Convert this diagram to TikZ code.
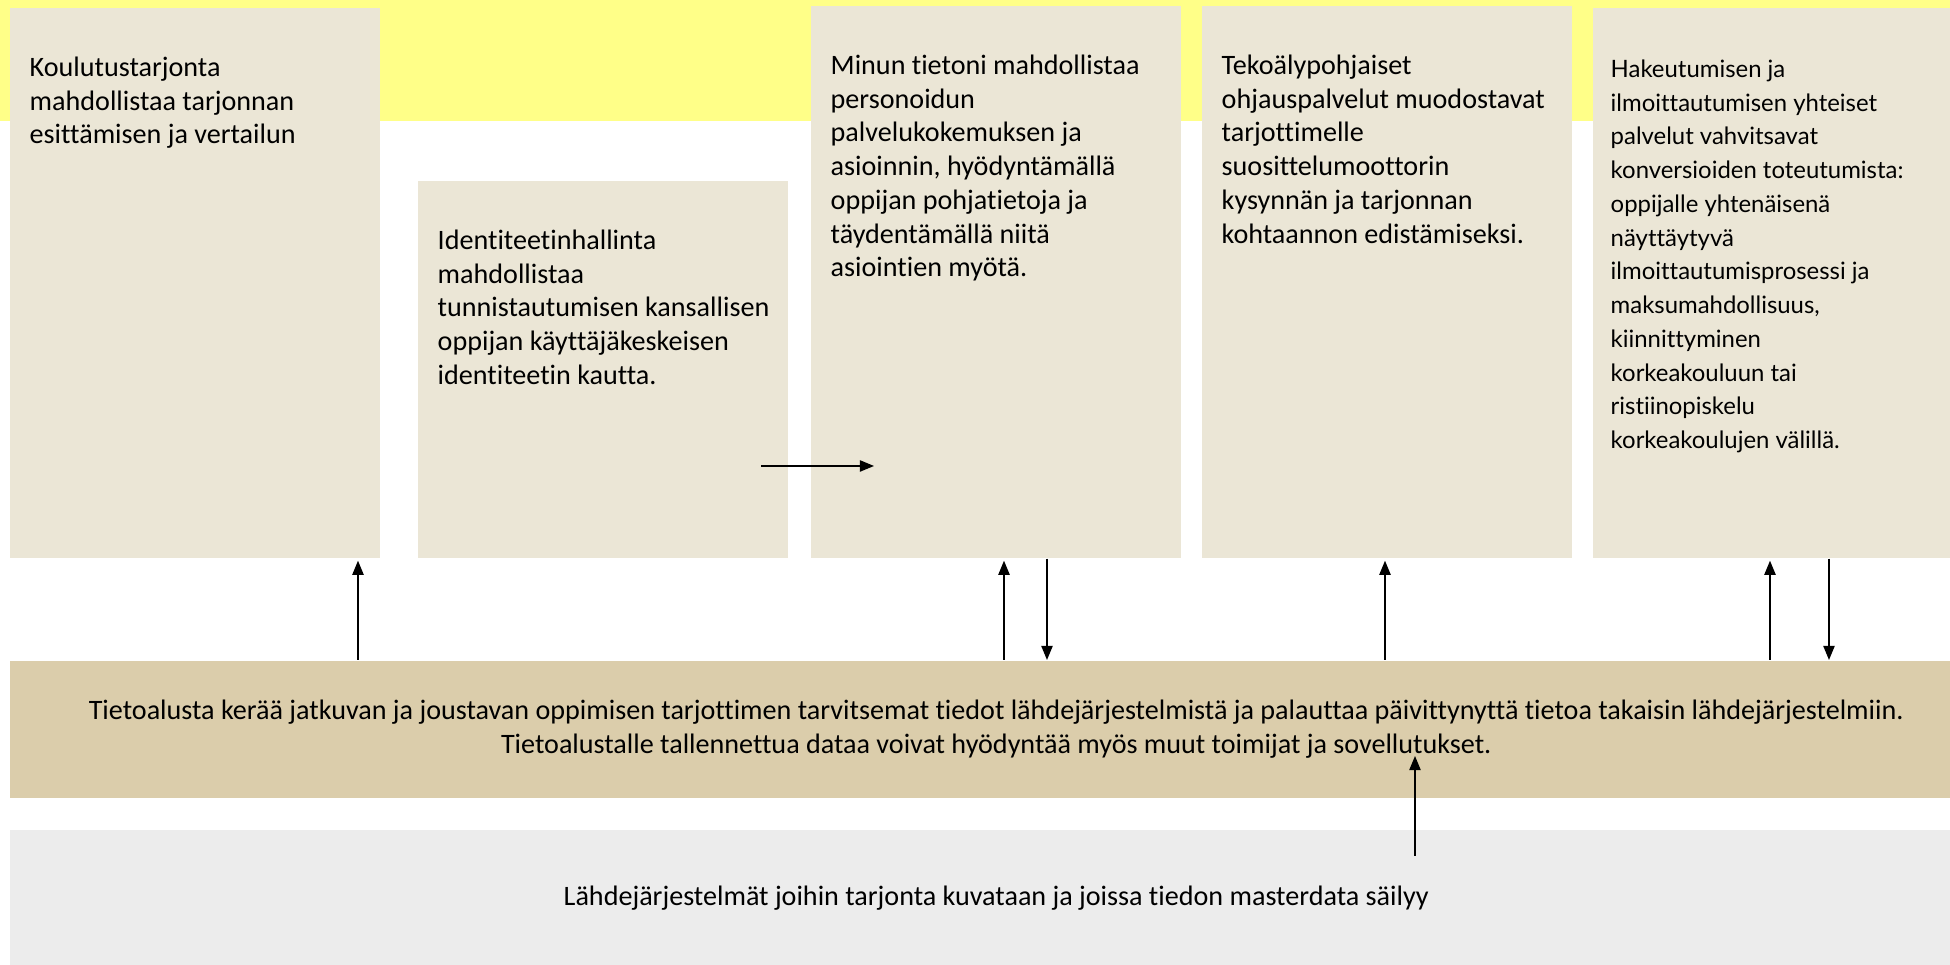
\documentclass[tikz,border=0pt]{standalone}
\usepackage{fontspec}
\setmainfont{Carlito}[Ligatures=NoCommon]
\newfontfamily\widefont{Lato}[Ligatures=NoCommon]
\usetikzlibrary{arrows.meta,positioning}
\definecolor{cpyellow}{RGB}{255,255,136}
\definecolor{cpbox}{RGB}{235,230,214}
\definecolor{cpband}{RGB}{219,205,171}
\definecolor{cpgrey}{RGB}{236,236,236}
\tikzstyle{arrow} = [line width=0.4pt,-{Triangle[length=4pt,width=3.2pt]},color=black]

\begin{document}
\begin{tikzpicture}[x=0.01cm, y=-0.01cm,
    service/.style={rectangle, fill=cpbox, inner sep=0pt, anchor=north west, minimum width=3.7cm},
    band/.style={rectangle, inner sep=0pt, anchor=north west, minimum width=19.72cm, align=center, font=\fontsize{8}{9.6}\selectfont},
    boxtext/.style={anchor=north west, align=left, inner sep=0pt, font=\fontsize{8}{9.6}\selectfont}]
\useasboundingbox (0,0) rectangle (1950,965);

% Yellow strip behind the services
\fill[cpyellow] (0,0) rectangle (1950,121);

% Service boxes
\node[service, minimum height=5.5cm] (koulutus) at (9,7) {};
\node[service, minimum height=3.77cm] (ident) at (417,180) {};
\node[service, minimum height=5.52cm] (minun) at (810,5) {};
\node[service, minimum height=5.52cm] (tekoaly) at (1201,5) {};
\node[service, minimum height=5.5cm, minimum width=3.7cm] (hakeutuminen) at (1592,7) {};

% Service texts
\node[boxtext, below right=0.49cm and 0.2cm of koulutus.north west] (koulutus-txt)
  {Koulutustarjonta\\ mahdollistaa tarjonnan\\ esittämisen ja vertailun};
\node[boxtext, below right=0.49cm and 0.2cm of ident.north west] (ident-txt)
  {Identiteetinhallinta\\ mahdollistaa\\ tunnistautumisen kansallisen\\ oppijan käyttäjäkeskeisen\\ identiteetin kautta.};
\node[boxtext, below right=0.49cm and 0.2cm of minun.north west] (minun-txt)
  {Minun tietoni mahdollistaa\\ personoidun\\ palvelukokemuksen ja\\ asioinnin, hyödyntämällä\\ oppijan pohjatietoja ja\\ täydentämällä niitä\\ asiointien myötä.};
\node[boxtext, below right=0.49cm and 0.2cm of tekoaly.north west] (tekoaly-txt)
  {Tekoälypohjaiset\\ ohjauspalvelut muodostavat\\ tarjottimelle\\ suosittelumoottorin\\ kysynnän ja tarjonnan\\ kohtaannon edistämiseksi.};
\node[boxtext, font=\widefont\fontsize{6.8}{9.6}\selectfont, below right=0.52cm and 0.18cm of hakeutuminen.north west] (hakeutuminen-txt)
  {Hakeutumisen ja\\ ilmoittautumisen yhteiset\\ palvelut vahvitsavat\\ konversioiden toteutumista:\\ oppijalle yhtenäisenä\\ näyttäytyvä\\ ilmoittautumisprosessi ja\\ maksumahdollisuus,\\ kiinnittyminen\\ korkeakouluun tai\\ ristiinopiskelu\\ korkeakoulujen välillä.};

% Bands
\node[band, fill=cpband, minimum height=1.37cm] (tieto) at (9,660)
  {Tietoalusta kerää jatkuvan ja joustavan oppimisen tarjottimen tarvitsemat tiedot lähdejärjestelmistä ja palauttaa päivittynyttä tietoa takaisin lähdejärjestelmiin.\\
   Tietoalustalle tallennettua dataa voivat hyödyntää myös muut toimijat ja sovellutukset.};
\node[band, fill=cpgrey, minimum height=1.36cm] (lahde) at (9,829)
  {Lähdejärjestelmät joihin tarjonta kuvataan ja joissa tiedon masterdata säilyy};

% Arrow positions
\coordinate (x1) at (358,0);
\coordinate (x2) at (1004,0);
\coordinate (x3) at (1047,0);
\coordinate (x4) at (1385,0);
\coordinate (x5) at (1770,0);
\coordinate (x6) at (1829,0);
\coordinate (ident-out) at (761,466);
\coordinate (minun-in) at (874,466);
\coordinate (lahde-out) at (1415,856);
\coordinate (tieto-in) at (1415,756);

% Connections
\draw[arrow] (tieto.north -| x1) -- ([yshift=-0.02cm]koulutus.south -| x1);
\draw[arrow] (tieto.north -| x2) -- ([yshift=-0.02cm]minun.south -| x2);
\draw[arrow] (minun.south -| x3) -- (tieto.north -| x3);
\draw[arrow] (tieto.north -| x4) -- ([yshift=-0.02cm]tekoaly.south -| x4);
\draw[arrow] (tieto.north -| x5) -- ([yshift=-0.02cm]hakeutuminen.south -| x5);
\draw[arrow] (hakeutuminen.south -| x6) -- (tieto.north -| x6);
\draw[arrow] (ident-out) -- (minun-in);
\draw[arrow] (lahde-out) -- (tieto-in);
\end{tikzpicture}
\end{document}
